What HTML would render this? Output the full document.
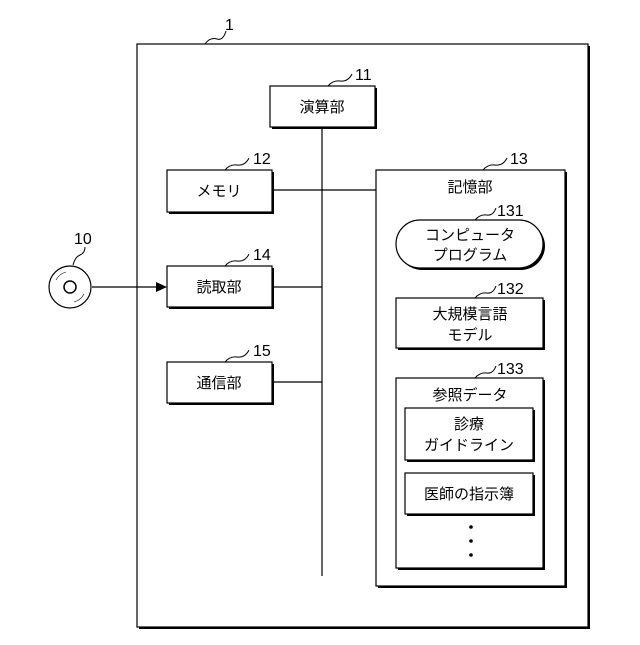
<!DOCTYPE html>
<html><head><meta charset="utf-8"><style>
body{margin:0;background:#fff}
svg text{font-family:"Liberation Sans","Noto Sans CJK JP",sans-serif;fill:#000}
</style></head><body>
<svg width="640" height="640" viewBox="0 0 640 640" xmlns="http://www.w3.org/2000/svg">
<g fill="none" stroke="#000">
<!-- outer -->
<rect x="139" y="46" width="451" height="583" fill="#000" stroke="none"/>
<rect x="137" y="44" width="451" height="583" fill="#fff" stroke-width="1.2"/>
<!-- lines -->
<line x1="322" y1="127" x2="322" y2="576" stroke-width="1.2"/>
<line x1="272" y1="190" x2="376" y2="190" stroke-width="1.2"/>
<line x1="272" y1="287" x2="322" y2="287" stroke-width="1.2"/>
<line x1="272" y1="382" x2="322" y2="382" stroke-width="1.2"/>
<line x1="92" y1="287" x2="158" y2="287" stroke-width="1.2"/>
<polygon points="167,287 156,282 156,292" fill="#000" stroke="none"/>
<!-- boxes with shadow -->
<g stroke-width="1.2">
<rect x="272" y="88" width="105" height="41" fill="#000" stroke="none"/>
<rect x="270" y="86" width="105" height="41" fill="#fff"/>
<rect x="169" y="172" width="105" height="42" fill="#000" stroke="none"/>
<rect x="167" y="170" width="105" height="42" fill="#fff"/>
<rect x="169" y="268" width="105" height="41" fill="#000" stroke="none"/>
<rect x="167" y="266" width="105" height="41" fill="#fff"/>
<rect x="169" y="364" width="105" height="41" fill="#000" stroke="none"/>
<rect x="167" y="362" width="105" height="41" fill="#fff"/>
<rect x="378" y="172" width="189" height="416" fill="#000" stroke="none"/>
<rect x="376" y="170" width="189" height="416" fill="#fff"/>
<rect x="398" y="222" width="147" height="48" rx="24" fill="#000" stroke="none"/>
<rect x="396" y="220" width="147" height="48" rx="24" fill="#fff"/>
<rect x="398" y="300" width="147" height="50" fill="#000" stroke="none"/>
<rect x="396" y="298" width="147" height="50" fill="#fff"/>
<rect x="398" y="380" width="147" height="190" fill="#000" stroke="none"/>
<rect x="396" y="378" width="147" height="190" fill="#fff"/>
<rect x="407" y="410" width="128" height="52" fill="#000" stroke="none"/>
<rect x="405" y="408" width="128" height="52" fill="#fff"/>
<rect x="407" y="475" width="128" height="41" fill="#000" stroke="none"/>
<rect x="405" y="473" width="128" height="41" fill="#fff"/>
</g>
<!-- disc -->
<circle cx="70" cy="287" r="21" stroke-width="1.2"/>
<circle cx="70" cy="287" r="6" stroke-width="1.5"/>
<path d="M56 280 A16 16 0 0 1 66 272 M84 294 A16 16 0 0 1 74 302" stroke-width="0.6"/>
<!-- leaders -->
<g stroke-width="1">
<path d="M205 44 q5 -7 12 -5 q6 2 9 -8"/>
<path d="M328 86 q5 -6 12 -5 q8 1 12 -7"/>
<path d="M225 170 q5 -6 12 -5 q8 1 12 -7"/>
<path d="M483 170 q5 -6 12 -5 q8 1 12 -7"/>
<path d="M225 266 q5 -6 12 -5 q8 1 12 -7"/>
<path d="M225 362 q5 -6 12 -5 q8 1 12 -7"/>
<path d="M73 265 q2 -8 7 -10 q5 -2 5 -8"/>
<path d="M475 220 q5 -6 12 -5 q6 1 9 -7"/>
<path d="M475 298 q5 -6 12 -5 q6 1 9 -7"/>
<path d="M475 378 q5 -6 12 -5 q6 1 9 -7"/>
</g>
</g>
<circle cx="471" cy="527" r="1.8"/><circle cx="471" cy="541" r="1.8"/><circle cx="471" cy="555" r="1.8"/>
<g font-size="15" text-anchor="middle">
<text x="322" y="112">演算部</text>
<text x="219" y="196">メモリ</text>
<text x="219" y="292">読取部</text>
<text x="219" y="388">通信部</text>
<text x="470" y="192">記憶部</text>
<text x="470" y="240">コンピュータ</text>
<text x="470" y="260">プログラム</text>
<text x="470" y="319">大規模言語</text>
<text x="470" y="340">モデル</text>
<text x="470" y="400">参照データ</text>
<text x="469" y="429">診療</text>
<text x="469" y="450">ガイドライン</text>
<text x="469" y="499">医師の指示簿</text>
</g>
<g font-size="16">
<text x="225" y="30">1</text>
<text x="355" y="80">11</text>
<text x="253" y="164">12</text>
<text x="510" y="164">13</text>
<text x="253" y="260">14</text>
<text x="253" y="356">15</text>
<text x="74" y="244">10</text>
<text x="497" y="216">131</text>
<text x="497" y="294">132</text>
<text x="497" y="374">133</text>
</g>
</svg>
</body></html>
